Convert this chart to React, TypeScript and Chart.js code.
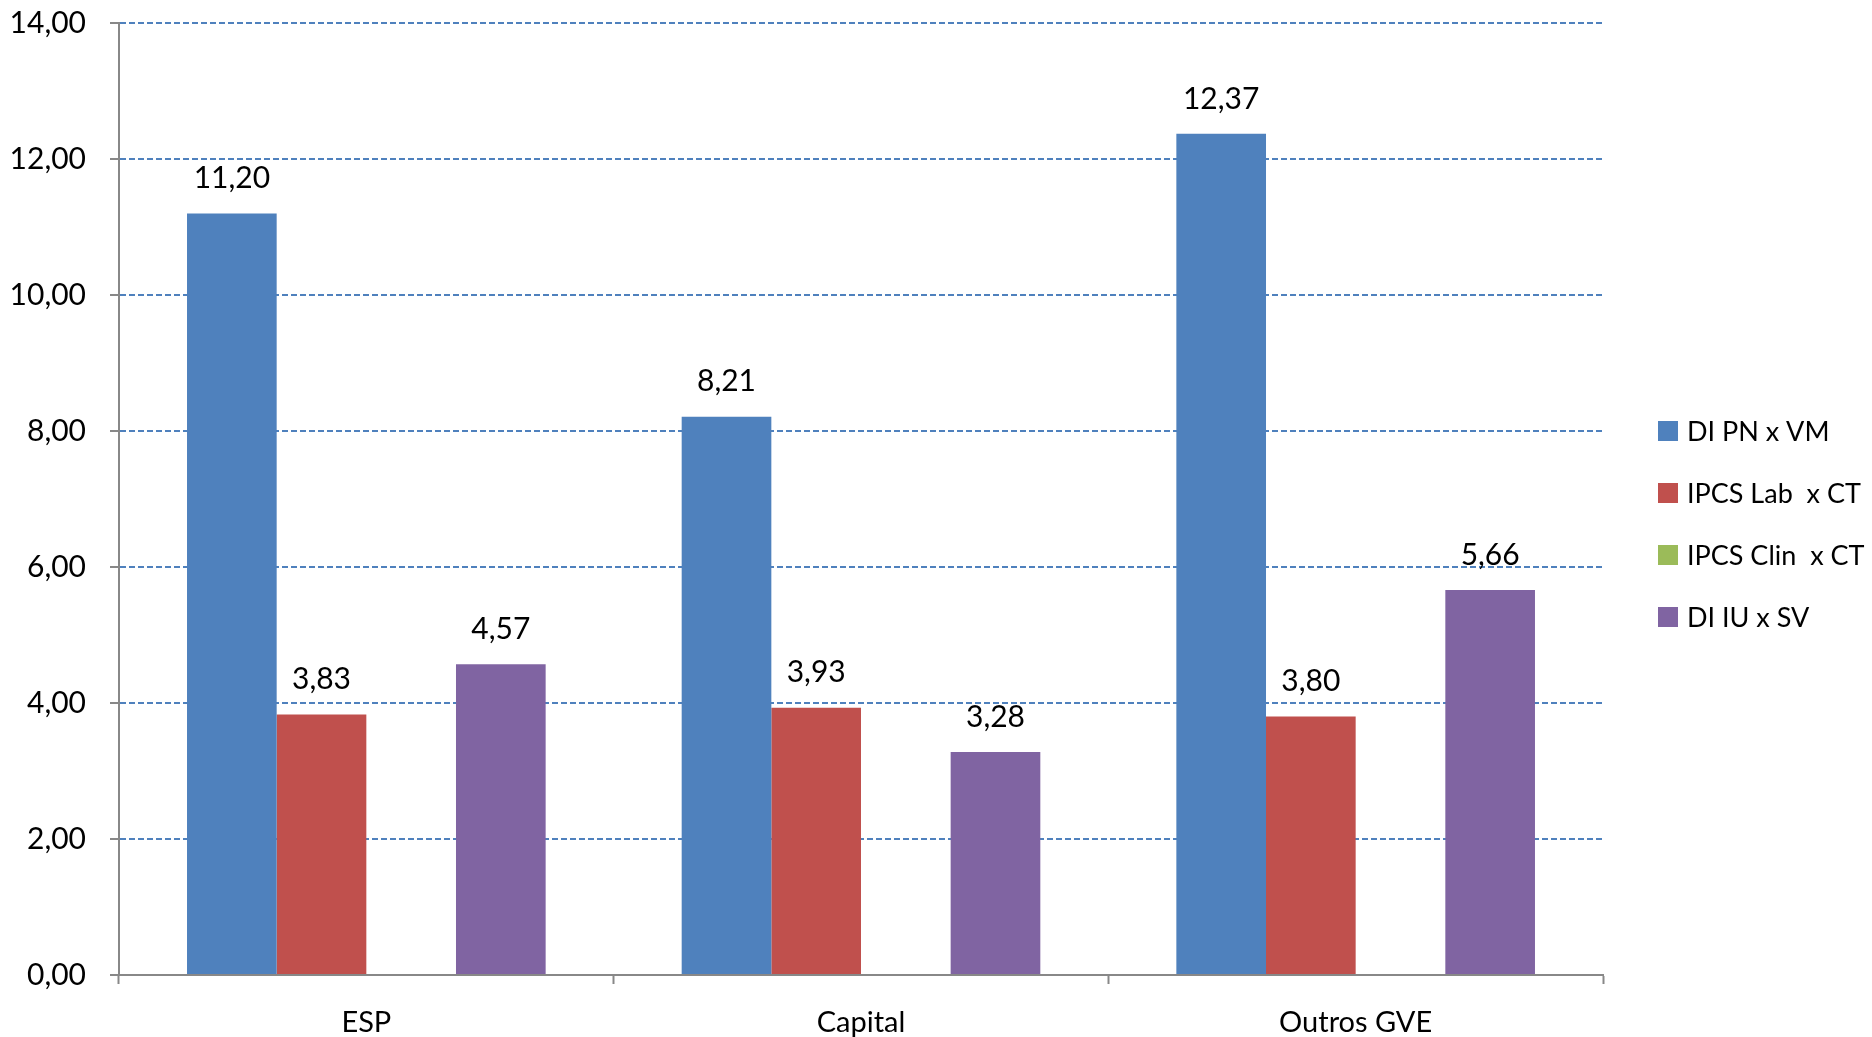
import React, { useEffect, useRef } from "react";
import { Chart, registerables } from "chart.js";

Chart.register(...registerables);

const categories = ["ESP", "Capital", "Outros GVE"];
const seriesNames = ["DI PN x VM", "IPCS Lab  x CT", "IPCS Clin  x CT", "DI IU x SV"];
const diPnVm = [11.2, 8.21, 12.37];
const ipcsLabCt = [3.83, 3.93, 3.8];
const ipcsClinCt: (number | null)[] = [null, null, null];
const diIuSv = [4.57, 3.28, 5.66];
const seriesColors = ["#4F81BD", "#C0504D", "#9BBB59", "#8064A2"];
const yMin = 0;
const yMax = 14;
const yStep = 2;

const FONT = "Lato";
const FS_TEXT = 29;
const FS_LEGEND = 27;
const FS_NUM = 30;

const fmt = (v: number) => v.toFixed(2).replace(".", ",");

const valueLabels = {
  id: "valueLabels",
  afterDatasetsDraw(chart: any) {
    const ctx = chart.ctx;
    ctx.save();
    ctx.font = `${FS_NUM}px ${FONT}`;
    ctx.fillStyle = "#000";
    ctx.textAlign = "center";
    ctx.textBaseline = "middle";
    chart.data.datasets.forEach((ds: any, di: number) => {
      const meta = chart.getDatasetMeta(di);
      meta.data.forEach((el: any, i: number) => {
        const v = ds.data[i];
        if (v === null || v === undefined) return;
        ctx.fillText(fmt(v), el.x, el.y - 35);
      });
    });
    ctx.restore();
  },
};

const sideLegend = {
  id: "sideLegend",
  afterDraw(chart: any) {
    const ctx = chart.ctx;
    ctx.save();
    ctx.font = `${FS_LEGEND}px ${FONT}`;
    ctx.textBaseline = "middle";
    ctx.textAlign = "left";
    const boxX = chart.chartArea.right + 55;
    chart.data.datasets.forEach((ds: any, i: number) => {
      const cy = 431 + i * 62;
      ctx.fillStyle = ds.backgroundColor;
      ctx.fillRect(boxX, cy - 10, 20, 20);
      ctx.fillStyle = "#000";
      ctx.fillText(ds.label, boxX + 29, cy + 1);
    });
    ctx.restore();
  },
};

export default function App() {
  const ref = useRef<HTMLCanvasElement | null>(null);
  useEffect(() => {
    if (!ref.current) return;
    const seriesData = [diPnVm, ipcsLabCt, ipcsClinCt, diIuSv];
    const chart = new Chart(ref.current, {
      type: "bar",
      data: {
        labels: categories,
        datasets: seriesData.map((d, i) => ({
          label: seriesNames[i],
          data: d,
          backgroundColor: seriesColors[i],
          borderWidth: 0,
          barPercentage: 1,
          categoryPercentage: 0.725,
        })),
      },
      options: {
        responsive: false,
        animation: false,
        devicePixelRatio: 1,
        layout: { padding: { top: 23, right: 269, left: 0, bottom: 0 } },
        plugins: {
          legend: { display: false },
          tooltip: { enabled: false },
        },
        scales: {
          x: {
            afterFit: (s: any) => {
              s.height = 62;
            },
            grid: {
              offset: true,
              drawOnChartArea: false,
              drawTicks: true,
              tickLength: 9,
              tickColor: "#888",
              tickWidth: 2,
              color: "#888",
            },
            border: { color: "#888", width: 2 },
            ticks: {
              font: { family: FONT, size: FS_TEXT },
              color: "#000",
              padding: 21,
            },
          },
          y: {
            min: yMin,
            max: yMax,
            afterFit: (s: any) => {
              s.width = 119;
              s.paddingTop = 0;
              s.paddingBottom = 0;
            },
            ticks: {
              stepSize: yStep,
              font: { family: FONT, size: FS_NUM },
              color: "#000",
              padding: 24,
              callback: (v: any) => fmt(Number(v)),
            },
            grid: {
              color: (c: any) => (c.tick && c.tick.value === 0 ? "rgba(0,0,0,0)" : "#4F81BD"),
              lineWidth: 2,
              drawTicks: true,
              tickLength: 9,
              tickColor: "#888",
              tickWidth: 2,
              tickBorderDash: [],
            },
            border: { color: "#888", width: 2, dash: [6, 3] },
          },
        },
      },
      plugins: [valueLabels, sideLegend],
    });
    return () => chart.destroy();
  }, []);
  return (
    <div style={{ position: "fixed", left: 0, top: 0, width: 1872, height: 1037, background: "#fff" }}>
      <canvas ref={ref} width={1872} height={1037} style={{ display: "block" }} />
    </div>
  );
}
